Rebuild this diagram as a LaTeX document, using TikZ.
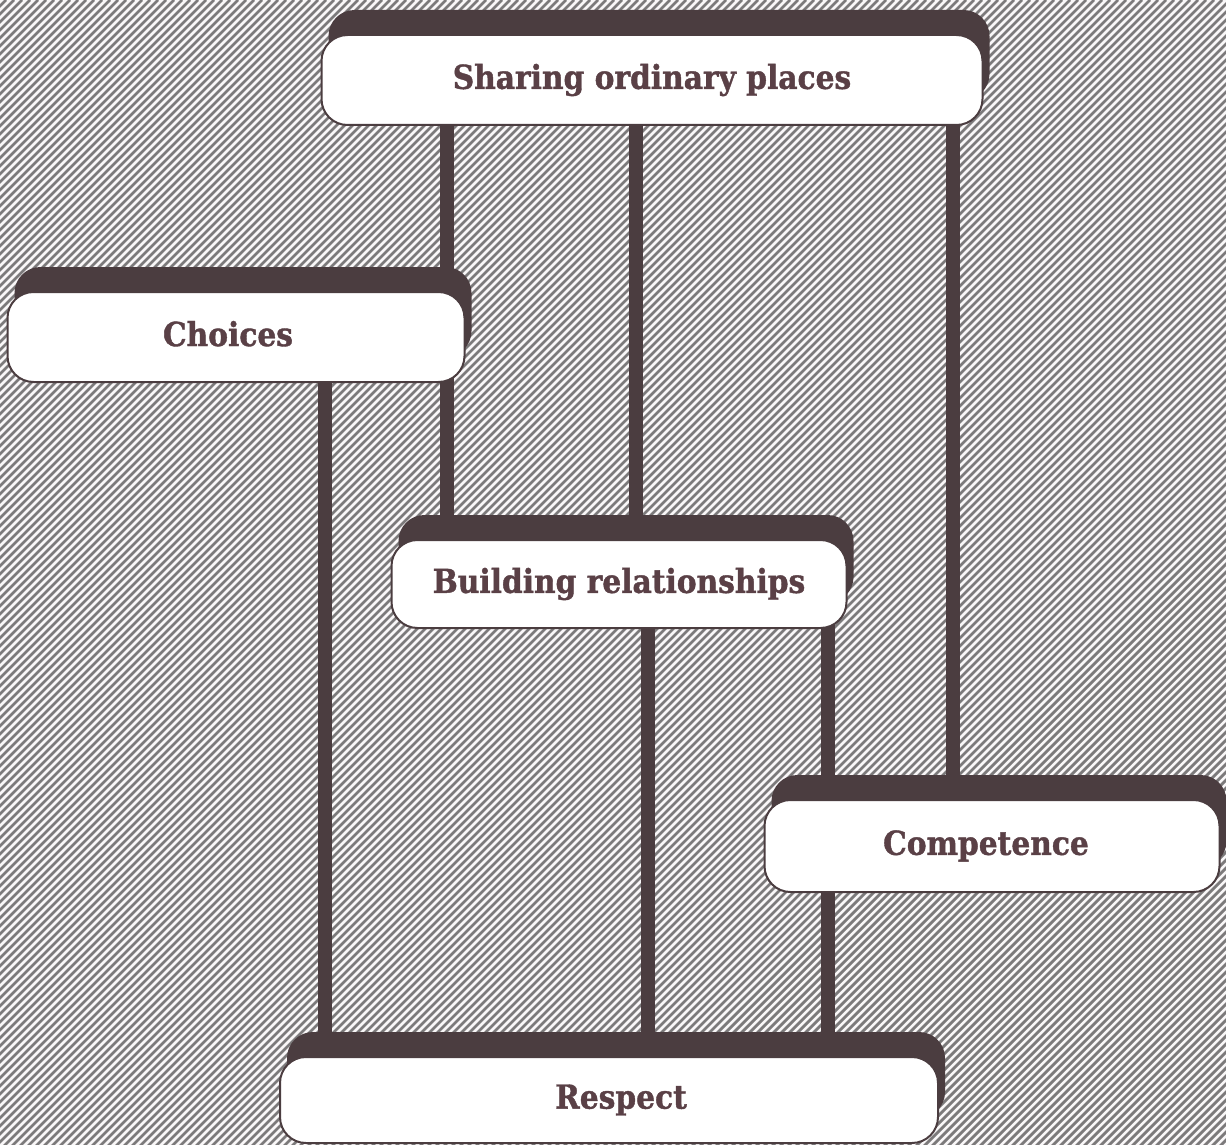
\documentclass[tikz,border=0pt]{standalone}
\usepackage{fontspec}
\newfontfamily\bk[FakeStretch=0.9, BoldFeatures={FakeBold=1.2}]{DejaVu Serif}
\usetikzlibrary{shadows}
\definecolor{ink}{HTML}{4B3D40}
\definecolor{txt}{HTML}{5A4046}
\definecolor{hatch}{HTML}{7C7A7B}
\definecolor{paper}{HTML}{F9F7F8}
\tikzset{
 box/.style={draw=ink, line width=2pt, fill=white, rounded corners=26pt,
   general shadow={fill=ink, shadow xshift=7pt, shadow yshift=25pt},
   font=\bk\bfseries\fontsize{33}{38}\selectfont, text=txt, inner sep=0pt},
 conn/.style={draw=ink, line width=14pt}
}
\begin{document}
\begin{tikzpicture}[x=1pt,y=-1pt]
\useasboundingbox (0,0) rectangle (1226,1145);
\fill[paper] (0,0) rectangle (1226,1145);
\begin{scope}
\clip (0,0) rectangle (1226,1145);
\foreach \c in {-1152,-1144,...,1232} \draw[hatch, line width=2.8pt] (\c,1150) -- (\c+1150,0);
\end{scope}
% column positions
\coordinate (xa) at (325,0);
\coordinate (xb) at (447,0);
\coordinate (xc) at (636,0);
\coordinate (xd) at (648,0);
\coordinate (xe) at (828,0);
\coordinate (xf) at (953,0);
% placeholders for connector ends
\path (652,80) node[minimum width=661pt, minimum height=90pt, inner sep=0pt] (share) {}
      (236,337) node[minimum width=457pt, minimum height=90pt, inner sep=0pt] (choice) {}
      (619,584) node[minimum width=455pt, minimum height=88pt, inner sep=0pt] (bld) {}
      (992,846) node[minimum width=455pt, minimum height=92pt, inner sep=0pt] (comp) {}
      (609,1100) node[minimum width=658pt, minimum height=86pt, inner sep=0pt] (resp) {};
% connectors
\draw[conn] (share.center -| xb) -- (bld.center -| xb);
\draw[conn] (share.center -| xc) -- (bld.center -| xc);
\draw[conn] (share.center -| xf) -- (comp.center -| xf);
\draw[conn] (choice.center -| xa) -- (resp.center -| xa);
\draw[conn] (bld.center -| xd) -- (resp.center -| xd);
\draw[conn] (bld.center -| xe) -- (resp.center -| xe);
% boxes
\node[box, minimum width=661pt, minimum height=90pt] at (share) {\raisebox{1pt}{Sharing ordinary places}};
\node[box, minimum width=457pt, minimum height=90pt] at (choice) {\hspace*{-16pt}\raisebox{7pt}{Choices}};
\node[box, minimum width=455pt, minimum height=88pt] at (bld) {Building relationships};
\node[box, minimum width=455pt, minimum height=92pt] at (comp) {\hspace*{-12pt}\raisebox{6pt}{Competence}};
\node[box, minimum width=658pt, minimum height=86pt] at (resp) {\hspace*{24pt}\raisebox{2pt}{Respect}};
\end{tikzpicture}
\end{document}
